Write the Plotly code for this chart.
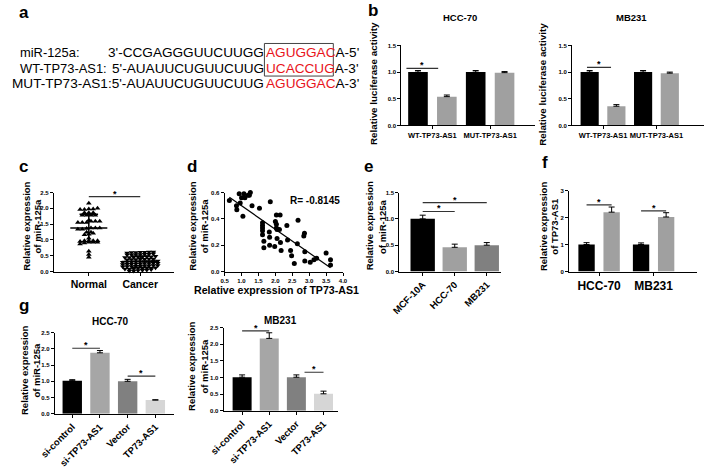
import numpy as np
import plotly.graph_objects as go

W, H = 709, 469
FONT = "Liberation Sans, Arial, sans-serif"

# ---------------- data ----------------
a_rows = [
    ("miR-125a:", "3'-CCGAGGGUUCUUGG", "AGUGGAC", "A-5'"),
    ("WT-TP73-AS1:", "5'-AUAUUCUGUUCUUG", "UCACCUG", "A-3'"),
    ("MUT-TP73-AS1:", "5'-AUAUUCUGUUCUUG", "AGUGGAC", "A-3'"),
]

b_groups = ["WT-TP73-AS1", "MUT-TP73-AS1"]
b_hcc_nc = [1.0, 1.0]
b_hcc_nc_err = [0.03, 0.03]
b_hcc_mir = [0.54, 0.99]
b_hcc_mir_err = [0.03, 0.02]
b_mb_nc = [1.0, 1.0]
b_mb_nc_err = [0.03, 0.03]
b_mb_mir = [0.36, 0.98]
b_mb_mir_err = [0.03, 0.02]

c_groups = ["Normal", "Cancer"]
c_normal = [2.16, 2.0, 1.96, 1.96, 1.98, 1.98, 1.78, 1.78, 1.86, 1.86, 1.78, 1.86, 1.78,
            1.55, 1.59, 1.62, 1.55, 1.59, 1.55, 1.59, 1.36, 1.38, 1.34, 1.38, 1.34, 1.38,
            1.21, 1.16, 1.24, 1.18, 1.24, 0.97, 0.93, 0.97, 0.93, 0.97, 0.93, 0.97, 0.95,
            0.90, 0.87, 1.05, 0.64, 0.54, 0.45]
c_cancer = [0.62, 0.62, 0.61, 0.61, 0.60, 0.60, 0.59,
            0.56, 0.55, 0.55, 0.54, 0.54, 0.53, 0.53,
            0.48, 0.47, 0.47, 0.46, 0.46, 0.45, 0.44, 0.44,
            0.40, 0.40, 0.39, 0.39, 0.38, 0.38, 0.37,
            0.33, 0.33, 0.32, 0.32, 0.31, 0.31, 0.30, 0.30, 0.29,
            0.26, 0.26, 0.25, 0.25, 0.24, 0.24, 0.23, 0.23, 0.22,
            0.19, 0.19, 0.18, 0.18, 0.17, 0.17, 0.16, 0.16, 0.15,
            0.12, 0.11, 0.11, 0.10, 0.10, 0.09, 0.08, 0.08,
            0.06, 0.05, 0.04, 0.03, 0.02, 0.02]

d_tp73 = [0.64, 0.93, 0.96, 0.85, 0.86, 1.00, 1.07, 1.10, 1.19, 1.26, 1.23, 1.04, 1.31, 1.53,
          1.85, 1.62, 1.62, 1.62, 1.62, 1.62, 1.66, 1.66, 1.82, 1.83, 1.83, 1.98, 2.00, 2.03,
          2.03, 2.05, 2.12, 2.14, 2.03, 2.05, 2.15, 2.17, 2.36, 2.34, 2.67, 2.65, 2.45, 2.48,
          2.56, 2.86, 2.84, 2.87, 2.87, 3.03, 3.14, 3.22, 3.50, 3.63, 3.63]
d_mir = [0.54, 0.59, 0.52, 0.50, 0.47, 0.56, 0.59, 0.56, 0.58, 0.60, 0.58, 0.42, 0.50, 0.48,
         0.53, 0.37, 0.35, 0.33, 0.31, 0.28, 0.23, 0.18, 0.30, 0.26, 0.20, 0.19, 0.38, 0.36,
         0.33, 0.32, 0.32, 0.43, 0.43, 0.25, 0.22, 0.16, 0.24, 0.35, 0.39, 0.21, 0.16, 0.12,
         0.06, 0.29, 0.27, 0.15, 0.08, 0.07, 0.09, 0.10, 0.14, 0.05, 0.09]
d_r_text = "R= -0.8145"

e_cells = ["MCF-10A", "HCC-70", "MB231"]
e_vals = [1.0, 0.46, 0.5]
e_err = [0.07, 0.06, 0.05]

f_cells = ["HCC-70", "MB231"]
f_ctrl = [1.0, 1.0]
f_ctrl_err = [0.07, 0.06]
f_tp = [2.2, 2.02]
f_tp_err = [0.19, 0.16]

g_groups = ["si-control", "si-TP73-AS1", "Vector", "TP73-AS1"]
g_hcc = [1.02, 1.88, 1.0, 0.42]
g_hcc_err = [0.03, 0.07, 0.06, 0.01]
g_mb = [1.01, 2.18, 1.01, 0.51]
g_mb_err = [0.07, 0.17, 0.07, 0.08]

# significance brackets: (panel, x0, x1, y)
sig_lines = [(1, -0.45, 0.1, 1.07), (2, -0.3, 0.15, 1.09), (3, 0, 1, 2.37),
             (5, 0, 1, 1.14), (5, 0, 2, 1.31), (6, -0.23, 0.23, 2.47), (6, 0.77, 1.23, 2.25),
             (7, 0, 1, 2.02), (7, 2, 3, 1.16), (8, 0, 1, 2.41), (8, 2.3, 3, 1.16)]

BLACK, GRAY = "#000000", "#a0a0a0"

fig = go.Figure()


def xr(i):
    return "x" if i == 1 else f"x{i}"


def yr(i):
    return "y" if i == 1 else f"y{i}"


def font(size, bold=True, color="black"):
    return dict(family=FONT, size=size, color=color, weight="bold" if bold else "normal")


def add_axes(i, xd, yd, xrange, yrange, ydtick, xticks=None, xfont=9, xangle=0,
             xdtick=None, yfmt=".1f"):
    xa = dict(domain=[xd[0] / W, xd[1] / W], range=xrange, anchor=yr(i),
              showline=True, linecolor="black", linewidth=1, ticks="outside", ticklen=3,
              tickcolor="black", showgrid=False, zeroline=False, tickfont=font(xfont),
              tickangle=xangle)
    if xticks is not None:
        xa.update(tickmode="array", tickvals=list(range(len(xticks))), ticktext=xticks)
    else:
        xa.update(dtick=xdtick, tick0=xrange[0], tickformat=".1f")
    ya = dict(domain=[1 - yd[1] / H, 1 - yd[0] / H], range=yrange, anchor=xr(i),
              showline=True, linecolor="black", linewidth=1, ticks="outside", ticklen=3,
              tickcolor="black", showgrid=False, zeroline=False, tickfont=font(6),
              dtick=ydtick, tick0=0, tickformat=yfmt)
    key = "" if i == 1 else str(i)
    fig.update_layout(**{f"xaxis{key}": xa, f"yaxis{key}": ya})


def bars(i, y, err, color, width, offset=None):
    fig.add_trace(go.Bar(
        x=list(range(len(y))), y=y, width=width, offset=offset,
        marker=dict(color=color, line=dict(width=0)),
        error_y=dict(type="data", array=err, arrayminus=[0] * len(err), symmetric=False,
                     color="black", thickness=1, width=3),
        xaxis=xr(i), yaxis=yr(i)))


def note(x, y, text, size, bold=True, angle=0, xanchor="center", yanchor="middle"):
    fig.add_annotation(x=x / W, y=1 - y / H, xref="paper", yref="paper", text=text,
                       showarrow=False, font=font(size, bold), textangle=angle,
                       xanchor=xanchor, yanchor=yanchor, borderpad=0)


def ytitle(x1, x2, yc, line1, line2, size=9.5):
    note(x1, yc, line1, size, angle=-90)
    note(x2, yc, line2, size, angle=-90)


def swarm(vals, bw, step):
    v = np.sort(np.asarray(vals, dtype=float))
    offs = np.zeros(len(v))
    s = 0
    while s < len(v):
        e = s
        while e + 1 < len(v) and v[e + 1] - v[s] <= bw + 1e-9:
            e += 1
        n = e - s + 1
        offs[s:e + 1] = (np.arange(n) - (n - 1) / 2) * step
        s = e + 1
    return v, offs


# ---------------- axes ----------------
add_axes(1, (397, 535), (43, 124), [-0.54, 1.78], [0, 1.5], 0.5, b_groups, xfont=7.5)
add_axes(2, (573, 709), (43, 124), [-0.58, 1.89], [0, 1.5], 0.5, b_groups, xfont=7.5)
add_axes(3, (39, 163), (192, 272), [-0.68, 1.66], [0, 2.5], 0.5, c_groups, xfont=10.5)
add_axes(4, (215, 337), (192, 272), [0.5, 4.0], [0, 0.6], 0.2, None, xfont=6, xdtick=0.5)
add_axes(5, (395, 500), (192, 272), [-0.73, 2.45], [0, 1.5], 0.5, e_cells, xfont=9.5, xangle=-45)
add_axes(6, (570, 702), (190, 272), [-0.55, 1.8], [0, 3], 1, f_cells, xfont=12, yfmt="d")
add_axes(7, (40, 163), (334, 416), [-0.63, 3.68], [0, 2.5], 0.5, g_groups, xfont=9.5, xangle=-45)
add_axes(8, (214, 332), (329, 413), [-0.68, 3.54], [0, 2.5], 0.5, g_groups, xfont=9.5, xangle=-45)

# ---------------- b ----------------
bars(1, b_hcc_nc, b_hcc_nc_err, BLACK, 0.34, -0.42)
bars(1, b_hcc_mir, b_hcc_mir_err, GRAY, 0.34, 0.08)
bars(2, b_mb_nc, b_mb_nc_err, BLACK, 0.34, -0.42)
bars(2, b_mb_mir, b_mb_mir_err, GRAY, 0.34, 0.08)

# ---------------- c ----------------
for gi, (vals, sym) in enumerate([(c_normal, "triangle-up"), (c_cancer, "triangle-down")]):
    yv, offs = swarm(vals, 0.06 if gi == 0 else 0.045, 0.085)
    fig.add_trace(go.Scatter(x=gi + offs, y=yv, mode="markers", cliponaxis=False,
                             marker=dict(symbol=sym, size=5, color="black"),
                             xaxis="x3", yaxis="y3"))
    m, sd = np.mean(vals), np.std(vals, ddof=1)
    for x0, x1, yy in [(gi - 0.36, gi + 0.36, m), (gi - 0.18, gi + 0.18, m + sd),
                       (gi - 0.18, gi + 0.18, m - sd)]:
        fig.add_shape(type="line", x0=x0, x1=x1, y0=yy, y1=yy, xref="x3", yref="y3",
                      line=dict(color="black", width=1.5))
    fig.add_shape(type="line", x0=gi, x1=gi, y0=m - sd, y1=m + sd, xref="x3", yref="y3",
                  line=dict(color="black", width=1.5))

# ---------------- d ----------------
fig.add_trace(go.Scatter(x=d_tp73, y=d_mir, mode="markers", cliponaxis=False,
                         marker=dict(symbol="circle", size=5, color="black"),
                         xaxis="x4", yaxis="y4"))
slope, icpt = np.polyfit(d_tp73, d_mir, 1)
xs = np.array([min(d_tp73), max(d_tp73)])
fig.add_trace(go.Scatter(x=xs, y=slope * xs + icpt, mode="lines",
                         line=dict(color="black", width=1.2), xaxis="x4", yaxis="y4"))

# ---------------- e, f, g ----------------
bars(5, e_vals, e_err, [BLACK, "#a0a0a0", "#808080"], 0.76)
bars(6, f_ctrl, f_ctrl_err, BLACK, 0.3, -0.38)
bars(6, f_tp, f_tp_err, GRAY, 0.3, 0.08)
g_colors = [BLACK, "#a6a6a6", "#808080", "#d6d6d6"]
bars(7, g_hcc, g_hcc_err, g_colors, 0.7)
bars(8, g_mb, g_mb_err, g_colors, 0.7)

# significance brackets
for p, x0, x1, yy in sig_lines:
    fig.add_shape(type="line", x0=x0, x1=x1, y0=yy, y1=yy, xref=xr(p), yref=yr(p),
                  line=dict(color="#333333", width=1.2))
    fig.add_annotation(x=(x0 + x1) / 2, y=yy, xref=xr(p), yref=yr(p), text="*",
                       showarrow=False, font=font(9), yanchor="bottom", yshift=-4)

# ---------------- panel a text ----------------
row_y = [50, 66, 82]
split_x = 257
A_SIZE = 13.6
for k, (lab, pre, red, tail) in enumerate(a_rows):
    if k < 2:
        note(3, row_y[k], lab, 12.9, bold=False, xanchor="left")
        note(split_x, row_y[k], pre, A_SIZE, bold=False, xanchor="right")
    else:
        note(split_x, row_y[k], lab + pre, A_SIZE, bold=False, xanchor="right")
    note(split_x, row_y[k], f"<span style='color:#e8141b'>{red}</span>{tail}", A_SIZE,
         bold=False, xanchor="left")
fig.add_shape(type="rect", xref="paper", yref="paper", x0=256 / W, x1=327 / W,
              y0=1 - 74 / H, y1=1 - 41 / H, line=dict(color="#444444", width=1))

# ---------------- titles & labels ----------------
for lab, x, y in [("a", 8, 10), ("b", 368, 8), ("c", 8, 166), ("d", 181, 166),
                  ("e", 363, 166), ("f", 545, 162), ("g", 8, 306)]:
    note(x, y, lab, 17)

note(458, 15, "HCC-70", 9.5)
note(634, 15, "MB231", 9.5)
note(97, 323, "HCC-70", 10)
note(273, 322, "MB231", 10)

note(369, 82, "Relative luciferase activity", 9.8, angle=-90)
note(543, 82, "Relative luciferase activity", 9.8, angle=-90)
ytitle(10, 22, 226, "Relative expression", "of miR-125a")
ytitle(181, 194, 226, "Relative expression", "of miR-125a")
ytitle(364, 377, 226, "Relative expression", "of miR-125a")
ytitle(543, 555, 226, "Relative expression", "of TP73-AS1")
ytitle(8, 21, 372, "Relative expression", "of miR-125a")
ytitle(181, 194, 368, "Relative expression", "of miR-125a")
note(268, 291, "Relative expression of TP73-AS1", 10.6)
note(308, 200, d_r_text, 10)

fig.update_layout(width=W, height=H, margin=dict(l=0, r=0, t=0, b=0),
                  paper_bgcolor="white", plot_bgcolor="white", showlegend=False,
                  barmode="overlay")

fig.write_html("out.html", config={"displayModeBar": False},
               post_script="document.body.style.margin='0';document.body.style.overflow='hidden';")
